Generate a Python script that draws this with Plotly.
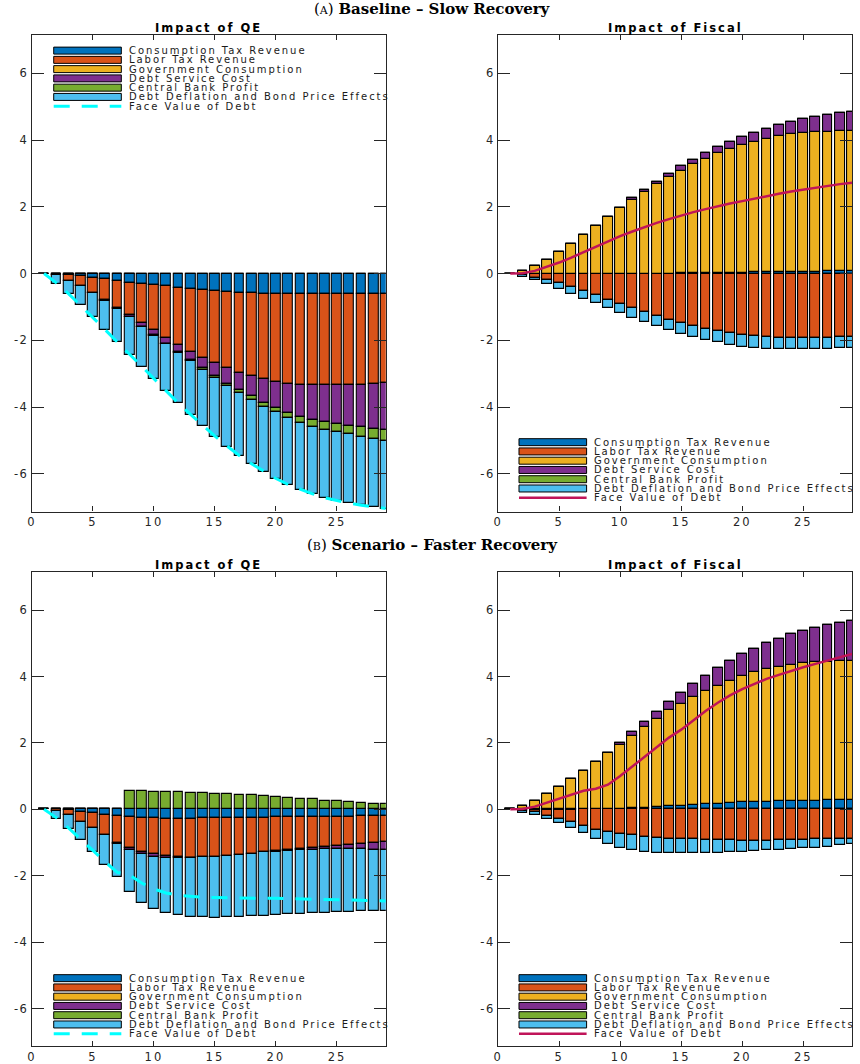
import plotly.graph_objects as go
from plotly.subplots import make_subplots

W, H = 860, 1064

periods = list(range(1, 30))

series_names = [
    "Consumption Tax Revenue",
    "Labor Tax Revenue",
    "Government Consumption",
    "Debt Service Cost",
    "Central Bank Profit",
    "Debt Deflation and Bond Price Effects",
]
face_name = "Face Value of Debt"
series_colors = ["#0072BD", "#D95319", "#EDB120", "#7E2F8E", "#77AC30", "#4DBEEE"]

x_tick_vals = [0, 5, 10, 15, 20, 25]
y_tick_vals = [-6, -4, -2, 0, 2, 4, 6]
y_tick_text = ["-6", "-4", "-2", "0", "2", "4", "6"]

zeros = [0.0] * 29

# ---------------- (A) Baseline - Slow Recovery : Impact of QE ----------------
a_qe_cons = [0, -0.01, -0.04, -0.07, -0.12, -0.17, -0.22, -0.27, -0.30, -0.35, -0.38, -0.42,
             -0.45, -0.48, -0.51, -0.54, -0.57, -0.58, -0.60, -0.60, -0.62, -0.62, -0.62,
             -0.62, -0.62, -0.61, -0.61, -0.60, -0.60]
a_qe_labor = [0, -0.03, -0.18, -0.30, -0.45, -0.62, -0.80, -0.97, -1.17, -1.35, -1.54, -1.72,
              -1.89, -2.04, -2.18, -2.30, -2.40, -2.50, -2.57, -2.65, -2.68, -2.71, -2.73,
              -2.73, -2.73, -2.73, -2.72, -2.70, -2.67]
a_qe_gov = zeros
a_qe_debt = [0, 0, 0, 0, 0, -0.02, -0.03, -0.06, -0.12, -0.15, -0.18, -0.22, -0.26, -0.32,
             -0.39, -0.46, -0.53, -0.60, -0.70, -0.77, -0.87, -0.96, -1.04, -1.11, -1.15,
             -1.22, -1.27, -1.34, -1.42]
a_qe_cb = [0, 0, 0, 0, 0, 0, 0, 0, -0.01, -0.01, -0.01, -0.01, -0.03, -0.05, -0.06, -0.07,
           -0.08, -0.12, -0.13, -0.14, -0.15, -0.18, -0.20, -0.22, -0.25, -0.25, -0.29,
           -0.31, -0.31]
a_qe_defl = [0, -0.26, -0.38, -0.58, -0.73, -0.87, -1.00, -1.13, -1.20, -1.31, -1.42, -1.52,
             -1.60, -1.67, -1.74, -1.81, -1.88, -1.91, -1.93, -1.98, -2.01, -2.01, -2.02,
             -2.05, -2.07, -2.07, -2.05, -2.04, -2.06]
a_qe_face = [0, -0.28, -0.60, -0.95, -1.30, -1.68, -2.05, -2.42, -2.80, -3.17, -3.53, -3.88,
             -4.22, -4.55, -4.87, -5.17, -5.45, -5.70, -5.93, -6.14, -6.32, -6.47, -6.60,
             -6.72, -6.81, -6.88, -6.94, -6.99, -7.04]

# ---------------- (A) Baseline - Slow Recovery : Impact of Fiscal ----------------
a_fs_cons = [0, -0.02, -0.02, -0.02, -0.01, -0.01, 0, 0, 0, 0, 0, 0, 0, 0, 0.01, 0.01, 0.02,
             0.02, 0.03, 0.03, 0.04, 0.05, 0.05, 0.05, 0.06, 0.06, 0.07, 0.08, 0.09]
a_fs_labor = [0, -0.03, -0.10, -0.18, -0.28, -0.38, -0.52, -0.65, -0.78, -0.90, -1.03, -1.15,
              -1.27, -1.39, -1.48, -1.57, -1.66, -1.71, -1.77, -1.83, -1.87, -1.89, -1.92,
              -1.93, -1.94, -1.94, -1.93, -1.91, -1.89]
a_fs_gov = [0, 0.08, 0.23, 0.42, 0.65, 0.90, 1.16, 1.43, 1.70, 1.96, 2.21, 2.45, 2.69, 2.89,
            3.08, 3.27, 3.42, 3.58, 3.71, 3.83, 3.91, 3.99, 4.07, 4.12, 4.16, 4.18, 4.18,
            4.19, 4.18]
a_fs_debt = [0, 0, 0, 0, 0, 0, 0, 0, 0.01, 0.02, 0.05, 0.07, 0.07, 0.10, 0.13, 0.13, 0.18,
             0.19, 0.21, 0.24, 0.27, 0.30, 0.33, 0.37, 0.40, 0.46, 0.51, 0.54, 0.58]
a_fs_cb = zeros
a_fs_defl = [0, -0.04, -0.08, -0.12, -0.16, -0.21, -0.23, -0.24, -0.25, -0.27, -0.29, -0.29,
             -0.30, -0.30, -0.32, -0.33, -0.32, -0.35, -0.36, -0.36, -0.35, -0.36, -0.35,
             -0.34, -0.33, -0.33, -0.33, -0.33, -0.33]
a_fs_face = [0, 0.01, 0.08, 0.20, 0.33, 0.48, 0.64, 0.80, 0.97, 1.12, 1.26, 1.40, 1.52, 1.63,
             1.74, 1.84, 1.93, 2.02, 2.10, 2.17, 2.25, 2.32, 2.39, 2.46, 2.52, 2.58, 2.63,
             2.68, 2.72]

# ---------------- (B) Scenario - Faster Recovery : Impact of QE ----------------
b_qe_cons = [0, 0, -0.03, -0.07, -0.10, -0.16, -0.20, -0.23, -0.25, -0.27, -0.28, -0.28,
             -0.28, -0.27, -0.27, -0.26, -0.26, -0.25, -0.25, -0.24, -0.24, -0.23, -0.23,
             -0.23, -0.22, -0.22, -0.21, -0.21, -0.21]
b_qe_labor = [0, -0.04, -0.14, -0.30, -0.47, -0.61, -0.80, -0.92, -1.02, -1.07, -1.12, -1.15,
              -1.17, -1.17, -1.15, -1.14, -1.11, -1.08, -1.04, -1.01, -0.98, -0.96, -0.92,
              -0.90, -0.87, -0.84, -0.82, -0.79, -0.78]
b_qe_gov = zeros
b_qe_debt = [0, 0, 0, 0, 0, 0, -0.03, -0.08, -0.08, -0.08, -0.05, -0.02, -0.01, 0, 0, 0, 0,
             0, 0, -0.02, -0.03, -0.04, -0.06, -0.07, -0.10, -0.13, -0.17, -0.22, -0.24]
b_qe_cb = [0, 0, 0, 0, 0, 0, 0, 0.56, 0.55, 0.53, 0.52, 0.51, 0.49, 0.48, 0.47, 0.46, 0.44,
           0.42, 0.39, 0.36, 0.35, 0.32, 0.30, 0.26, 0.24, 0.22, 0.20, 0.17, 0.15]
b_qe_defl = [0, -0.25, -0.42, -0.56, -0.72, -0.89, -1.01, -1.25, -1.47, -1.57, -1.67, -1.73,
             -1.77, -1.81, -1.84, -1.85, -1.87, -1.89, -1.91, -1.91, -1.91, -1.91, -1.91,
             -1.91, -1.90, -1.89, -1.87, -1.84, -1.83]
b_qe_face = [0, -0.25, -0.56, -0.89, -1.24, -1.58, -1.90, -1.98, -2.22, -2.40, -2.52, -2.59,
             -2.63, -2.65, -2.66, -2.67, -2.67, -2.68, -2.68, -2.68, -2.69, -2.69, -2.70,
             -2.70, -2.71, -2.72, -2.73, -2.75, -2.76]

# ---------------- (B) Scenario - Faster Recovery : Impact of Fiscal ----------------
b_fs_cons = [0, -0.02, -0.02, -0.02, -0.01, -0.01, 0, 0, 0, 0.01, 0.03, 0.05, 0.07, 0.09,
             0.11, 0.13, 0.15, 0.17, 0.19, 0.21, 0.22, 0.23, 0.24, 0.25, 0.26, 0.26, 0.27,
             0.28, 0.29]
b_fs_labor = [0, -0.02, -0.07, -0.17, -0.27, -0.37, -0.51, -0.62, -0.67, -0.73, -0.77, -0.82,
              -0.85, -0.88, -0.89, -0.90, -0.91, -0.92, -0.93, -0.94, -0.94, -0.94, -0.93,
              -0.92, -0.91, -0.90, -0.89, -0.88, -0.88]
b_fs_gov = [0, 0.10, 0.26, 0.45, 0.67, 0.91, 1.17, 1.43, 1.69, 1.93, 2.19, 2.43, 2.65, 2.89,
            3.07, 3.25, 3.41, 3.55, 3.69, 3.81, 3.91, 4.00, 4.06, 4.11, 4.16, 4.18, 4.18,
            4.18, 4.17]
b_fs_debt = [0, 0, 0, 0, 0, 0, 0, 0, 0, 0.05, 0.11, 0.15, 0.22, 0.25, 0.34, 0.39, 0.47, 0.54,
             0.60, 0.65, 0.70, 0.77, 0.83, 0.91, 0.95, 1.02, 1.09, 1.15, 1.21]
b_fs_cb = zeros
b_fs_defl = [0, -0.06, -0.08, -0.11, -0.14, -0.17, -0.19, -0.28, -0.38, -0.44, -0.45, -0.45,
             -0.45, -0.44, -0.43, -0.42, -0.40, -0.38, -0.35, -0.33, -0.31, -0.29, -0.28,
             -0.27, -0.26, -0.25, -0.23, -0.19, -0.15]
b_fs_face = [0, 0.01, 0.08, 0.20, 0.33, 0.46, 0.56, 0.62, 0.74, 1.00, 1.29, 1.58, 1.87, 2.16,
             2.40, 2.69, 2.96, 3.21, 3.43, 3.62, 3.78, 3.93, 4.05, 4.17, 4.28, 4.38, 4.48,
             4.58, 4.68]

QE_LINE = dict(color="#00FFFF", width=3, dash="16px,12px")
FISCAL_LINE = dict(color="#C01459", width=2.5)

panels = [
    dict(row=1, col=1, title="Impact of QE", line=QE_LINE,
         comps=[a_qe_cons, a_qe_labor, a_qe_gov, a_qe_debt, a_qe_cb, a_qe_defl], face=a_qe_face,
         leg_x=49, leg_y=50.7),
    dict(row=1, col=2, title="Impact of Fiscal", line=FISCAL_LINE,
         comps=[a_fs_cons, a_fs_labor, a_fs_gov, a_fs_debt, a_fs_cb, a_fs_defl], face=a_fs_face,
         leg_x=517, leg_y=443),
    dict(row=2, col=1, title="Impact of QE", line=QE_LINE,
         comps=[b_qe_cons, b_qe_labor, b_qe_gov, b_qe_debt, b_qe_cb, b_qe_defl], face=b_qe_face,
         leg_x=49, leg_y=980),
    dict(row=2, col=2, title="Impact of Fiscal", line=FISCAL_LINE,
         comps=[b_fs_cons, b_fs_labor, b_fs_gov, b_fs_debt, b_fs_cb, b_fs_defl], face=b_fs_face,
         leg_x=517, leg_y=980),
]

# axes boxes in pixels: (left, right) and (top, bottom)
col_px = {1: (27, 383), 2: (496, 852)}
row_px = {1: (35, 512.5), 2: (573, 1048)}


def px(x):
    return x / W


def py(y):
    return 1 - y / H


def spaced(text, ls):
    return f'<span style="letter-spacing:{ls}px">{text}</span>'


fig = make_subplots(rows=2, cols=2, horizontal_spacing=0.05, vertical_spacing=0.05)

AXIS_COLOR = "#262626"
TEXT_FONT = "DejaVu Sans"
LEGEND_SPACING = 1.95

shapes = []
annotations = []

for p in panels:
    r, c = p["row"], p["col"]
    for name, color, vals in zip(series_names, series_colors, p["comps"]):
        fig.add_trace(
            go.Bar(x=periods, y=vals, name=name, width=0.8, showlegend=False,
                   marker=dict(color=color, line=dict(color="black", width=1.1))),
            row=r, col=c)
    fig.add_trace(
        go.Scatter(x=periods, y=p["face"], mode="lines", name=face_name, showlegend=False,
                   line=p["line"]),
        row=r, col=c)

    # panel title
    x0, x1 = col_px[c]
    y0, y1 = row_px[r]
    annotations.append(dict(
        x=px((x0 + x1) / 2), y=py(y0 - 6.5), xref="paper", yref="paper",
        text="<b>" + spaced(p["title"], 2.0) + "</b>", showarrow=False,
        xanchor="center", yanchor="middle",
        font=dict(family=TEXT_FONT, size=11.5, color="black")))

    # legend block
    lx, ly = p["leg_x"], p["leg_y"]
    step = 9.28
    for i, (name, color) in enumerate(zip(series_names, series_colors)):
        yc = ly + i * step
        shapes.append(dict(type="rect", xref="paper", yref="paper",
                           x0=px(lx), x1=px(lx + 68), y0=py(yc + 3.5), y1=py(yc - 3.5),
                           fillcolor=color, line=dict(color="black", width=1)))
        annotations.append(dict(
            x=px(lx + 73.5), y=py(yc), xref="paper", yref="paper",
            text=spaced(name, LEGEND_SPACING), showarrow=False, xanchor="left",
            yanchor="middle",
            font=dict(family=TEXT_FONT, size=10, color="#1a1a1a")))
    yc = ly + 6 * step
    ln = dict(p["line"])
    shapes.append(dict(type="line", xref="paper", yref="paper",
                       x0=px(lx), x1=px(lx + 68), y0=py(yc), y1=py(yc), line=ln))
    annotations.append(dict(
        x=px(lx + 73.5), y=py(yc), xref="paper", yref="paper",
        text=spaced(face_name, LEGEND_SPACING), showarrow=False, xanchor="left",
        yanchor="middle",
        font=dict(family=TEXT_FONT, size=10, color="#1a1a1a")))

    fig.update_xaxes(
        domain=[px(x0), px(x1)], range=[0, 29],
        tickmode="array", tickvals=x_tick_vals,
        ticktext=[spaced(str(v), 2) for v in x_tick_vals],
        ticks="inside", ticklen=5, tickwidth=1, tickcolor=AXIS_COLOR,
        showline=True, linecolor=AXIS_COLOR, linewidth=1.2, mirror="ticks",
        showgrid=False, zeroline=False,
        tickfont=dict(family=TEXT_FONT, size=11.5, color=AXIS_COLOR),
        row=r, col=c)
    fig.update_yaxes(
        domain=[py(y1), py(y0)], range=[-7.13, 7.15],
        tickmode="array", tickvals=y_tick_vals,
        ticktext=[spaced(t, 1.5) for t in y_tick_text],
        ticks="inside", ticklen=12, tickwidth=1, tickcolor=AXIS_COLOR,
        showline=True, linecolor=AXIS_COLOR, linewidth=1.2, mirror="ticks",
        showgrid=False, zeroline=False,
        tickfont=dict(family=TEXT_FONT, size=11.5, color=AXIS_COLOR),
        row=r, col=c)

# section headings
annotations.append(dict(
    x=0.5, y=py(9), xref="paper", yref="paper", showarrow=False,
    xanchor="center", yanchor="middle",
    text="(<span style=\"font-size:11px\">A</span>) <b>Baseline – Slow Recovery</b>",
    font=dict(family="DejaVu Serif", size=15, color="black")))
annotations.append(dict(
    x=0.5, y=py(546), xref="paper", yref="paper", showarrow=False,
    xanchor="center", yanchor="middle",
    text="(<span style=\"font-size:11px\">B</span>) <b>Scenario – Faster Recovery</b>",
    font=dict(family="DejaVu Serif", size=15, color="black")))

fig.update_layout(
    width=W, height=H,
    margin=dict(l=0, r=0, t=0, b=0),
    barmode="relative",
    bargap=0,
    plot_bgcolor="white",
    paper_bgcolor="white",
    showlegend=False,
    shapes=shapes,
    annotations=annotations,
)

fig.write_html("out.html")
